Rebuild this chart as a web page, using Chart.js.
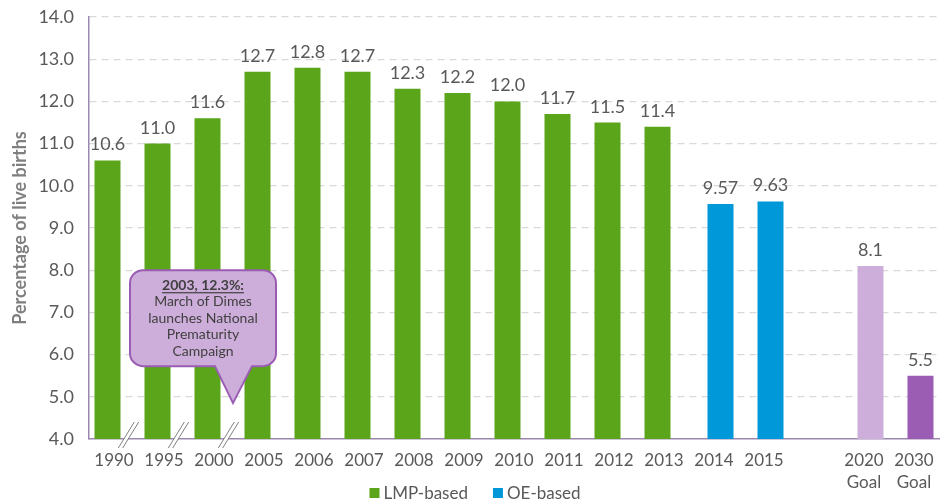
<!DOCTYPE html>
<html>
<head>
<meta charset="utf-8">
<script src="https://cdn.jsdelivr.net/npm/chart.js@4/dist/chart.umd.min.js"></script>
<style>
html,body{margin:0;padding:0;background:#fff;}
#wrap{width:940px;height:504px;position:relative;}
</style>
</head>
<body>
<div id="wrap"><canvas id="c" width="940" height="504"></canvas></div>
<script>
const categories = ['1990','1995','2000','2005','2006','2007','2008','2009','2010','2011','2012','2013','2014','2015','',['2020','Goal'],['2030','Goal']];
const lmpValues  = [10.6,11.0,11.6,12.7,12.8,12.7,12.3,12.2,12.0,11.7,11.5,11.4,null,null,null,null,null];
const oeValues   = [null,null,null,null,null,null,null,null,null,null,null,null,9.57,9.63,null,null,null];
const goalValues = [null,null,null,null,null,null,null,null,null,null,null,null,null,null,null,8.1,5.5];
const goalColors = ['#CDADD9','#CDADD9','#CDADD9','#CDADD9','#CDADD9','#CDADD9','#CDADD9','#CDADD9','#CDADD9','#CDADD9','#CDADD9','#CDADD9','#CDADD9','#CDADD9','#CDADD9','#CDADD9','#9B5CB4'];
const yTicks = [4,5,6,7,8,9,10,11,12,13,14];
const breakAfter = [0,1,2];
const calloutTitle = '2003, 12.3%:';
const calloutLines = ['March of Dimes','launches National','Prematurity','Campaign'];
const legendSeries = [0,1];

const FONT = 'Lato, "Open Sans", sans-serif';
const GRAY = '#595959';

const valueLabels = {
  id:'valueLabels',
  afterDatasetsDraw(chart){
    const ctx = chart.ctx;
    ctx.save();
    ctx.font = '18px ' + FONT;
    ctx.fillStyle = GRAY;
    ctx.textAlign = 'center';
    ctx.textBaseline = 'alphabetic';
    chart.data.datasets.forEach((ds, di) => {
      const meta = chart.getDatasetMeta(di);
      meta.data.forEach((bar, i) => {
        const v = ds.data[i];
        if (v === null || v === undefined) return;
        const txt = ds.decimals === 2 ? v.toFixed(2) : v.toFixed(1);
        ctx.fillText(txt, bar.x, bar.y - 10);
      });
    });
    ctx.restore();
  }
};

const breaks = {
  id:'breaks',
  afterDatasetsDraw(chart){
    const ctx = chart.ctx;
    const meta = chart.getDatasetMeta(0);
    const yb = chart.scales.y.getPixelForValue(4);
    ctx.save();
    breakAfter.forEach(i => {
      const a = meta.data[i], b = meta.data[i+1];
      const cx = (a.x + b.x)/2 - 4;
      const cy = yb - 4;
      const dx = 8, dy = 13, sep = 2.2;
      ctx.beginPath();
      ctx.moveTo(cx - dx - sep, cy + dy);
      ctx.lineTo(cx + dx - sep, cy - dy);
      ctx.lineTo(cx + dx + sep, cy - dy);
      ctx.lineTo(cx - dx + sep, cy + dy);
      ctx.closePath();
      ctx.fillStyle = '#ffffff';
      ctx.fill();
      ctx.strokeStyle = '#7F7F7F';
      ctx.lineWidth = 1;
      [-sep, sep].forEach(s => {
        ctx.beginPath();
        ctx.moveTo(cx - dx + s, cy + dy);
        ctx.lineTo(cx + dx + s, cy - dy);
        ctx.stroke();
      });
    });
    ctx.restore();
  }
};

const callout = {
  id:'callout',
  afterDatasetsDraw(chart){
    const ctx = chart.ctx;
    const xs = chart.scales.x, ys = chart.scales.y;
    const tipX = (xs.getPixelForValue(2) + xs.getPixelForValue(3))/2 - 6;
    const tipY = ys.getPixelForValue(4.85);
    const L = tipX - 103, R = tipX + 43, T = tipY - 133, B = tipY - 37, r = 13;
    const p1 = tipX - 18, p2 = tipX + 19;
    ctx.save();
    ctx.beginPath();
    ctx.moveTo(L + r, T);
    ctx.lineTo(R - r, T);
    ctx.arcTo(R, T, R, T + r, r);
    ctx.lineTo(R, B - r);
    ctx.arcTo(R, B, R - r, B, r);
    ctx.lineTo(p2, B);
    ctx.lineTo(tipX, tipY);
    ctx.lineTo(p1, B);
    ctx.lineTo(L + r, B);
    ctx.arcTo(L, B, L, B - r, r);
    ctx.lineTo(L, T + r);
    ctx.arcTo(L, T, L + r, T, r);
    ctx.closePath();
    ctx.fillStyle = '#CDADD9';
    ctx.fill();
    ctx.strokeStyle = '#9B5CB4';
    ctx.lineWidth = 2;
    ctx.stroke();
    const cx = (L + R)/2;
    ctx.fillStyle = '#404040';
    ctx.textAlign = 'center';
    ctx.textBaseline = 'middle';
    ctx.font = 'bold 14px ' + FONT;
    const y0 = T + 15;
    ctx.fillText(calloutTitle, cx, y0);
    const w = ctx.measureText(calloutTitle).width;
    ctx.fillRect(cx - w/2, y0 + 7, w, 1.2);
    ctx.font = '14px ' + FONT;
    calloutLines.forEach((t, k) => ctx.fillText(t, cx, y0 + 16.5*(k+1)));
    ctx.restore();
  }
};

const customLegend = {
  id:'customLegend',
  afterDraw(chart){
    const ctx = chart.ctx;
    ctx.save();
    ctx.font = '17px ' + FONT;
    ctx.textBaseline = 'middle';
    ctx.textAlign = 'left';
    const box = 10, gapText = 4, gapItem = 25;
    const items = legendSeries.map(i => chart.data.datasets[i]);
    const widths = items.map(d => box + gapText + ctx.measureText(d.label).width);
    const total = widths.reduce((a,b)=>a+b,0) + gapItem*(items.length-1);
    let x = 475 - total/2;
    const y = 493;
    items.forEach((d, k) => {
      ctx.fillStyle = d.backgroundColor;
      ctx.fillRect(x, y - box/2, box, box);
      ctx.fillStyle = GRAY;
      ctx.fillText(d.label, x + box + gapText, y + 1);
      x += widths[k] + gapItem;
    });
    ctx.restore();
  }
};

new Chart(document.getElementById('c'), {
  type:'bar',
  data:{
    labels: categories,
    datasets:[
      {label:'LMP-based', data: lmpValues, backgroundColor:'#5AA51A', stack:'a', decimals:1},
      {label:'OE-based', data: oeValues, backgroundColor:'#0098D8', stack:'b', decimals:2},
      {label:'Goal', data: goalValues, backgroundColor: goalColors, stack:'b', decimals:1}
    ]
  },
  options:{
    responsive:false,
    animation:false,
    devicePixelRatio:1,
    categoryPercentage:0.52,
    barPercentage:2.0,
    layout:{padding:{top:17,right:1,left:0,bottom:0}},
    plugins:{
      tooltip:{enabled:false},
      legend:{display:false}
    },
    scales:{
      x:{
        grid:{display:false, drawTicks:false},
        border:{display:true, color:'#9C87AE', width:1.5},
        ticks:{color:GRAY, font:{family:FONT,size:17, lineHeight:1.3}, padding:10, maxRotation:0, autoSkip:false},
        afterFit(s){ s.height = 65; s.paddingLeft = 0; s.paddingRight = 0; }
      },
      y:{
        stacked:false,
        min:4, max:14,
        afterBuildTicks(s){ s.ticks = yTicks.map(v=>({value:v})); },
        grid:{color:(c)=> c.tick && c.tick.value === 4 ? 'rgba(0,0,0,0)' : '#D9D9D9', drawTicks:false, lineWidth:1.2},
        border:{display:true, color:'#9C87AE', width:1.5, dash:[7,5]},
        ticks:{color:GRAY, font:{family:FONT,size:18}, padding:15, callback:(v)=>Number(v).toFixed(1)},
        title:{display:true, text:'Percentage of live births', color:'#7F7F7F', font:{family:FONT,size:18,weight:'bold'}, padding:{top:9,bottom:0}},
        afterFit(s){ s.width = 89; s.paddingTop = 0; s.paddingBottom = 0; }
      }
    }
  },
  plugins:[valueLabels, breaks, callout, customLegend]
});
</script>
</body>
</html>
